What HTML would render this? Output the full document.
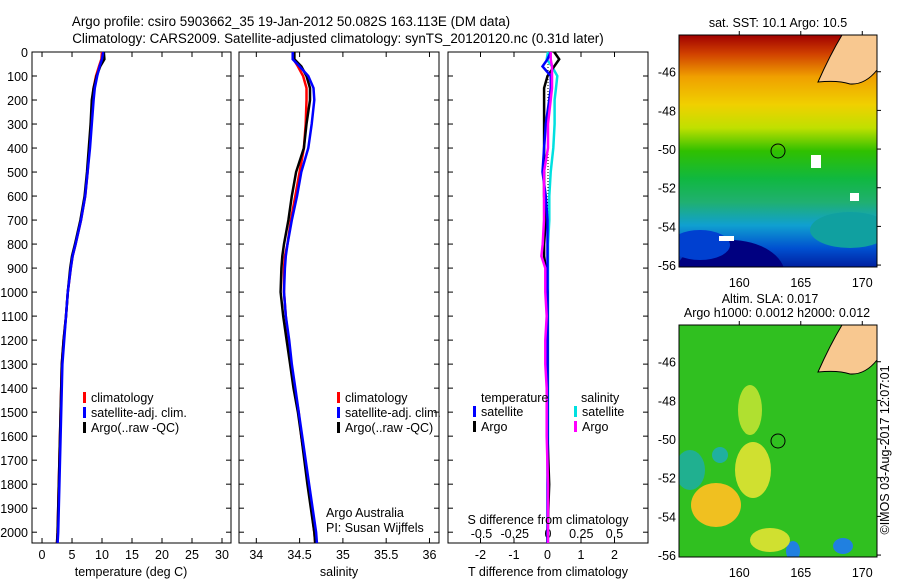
<!DOCTYPE html>
<html><head><meta charset="utf-8">
<style>
html,body{margin:0;padding:0;background:#fff;}
svg{display:block;font-family:"Liberation Sans",sans-serif;}
text{font-size:12.5px;fill:#000;}
</style></head>
<body>
<svg id="chart" width="900" height="580" viewBox="0 0 900 580">
<text x="291" y="26" text-anchor="middle" style="font-size:13.4px">Argo profile: csiro 5903662_35 19-Jan-2012 50.082S 163.113E (DM data)</text>
<text x="338" y="43" text-anchor="middle" style="font-size:13.4px">Climatology: CARS2009. Satellite-adjusted climatology: synTS_20120120.nc (0.31d later)</text>
<g id="plots"></g>
<defs>
<linearGradient id="sstg" x1="0" y1="0" x2="0" y2="1">
<stop offset="0" stop-color="#a00000"/><stop offset="0.08" stop-color="#d04000"/><stop offset="0.18" stop-color="#f0a000"/>
<stop offset="0.3" stop-color="#f0d000"/><stop offset="0.4" stop-color="#c0e000"/><stop offset="0.5" stop-color="#30c000"/>
<stop offset="0.62" stop-color="#10b840"/><stop offset="0.72" stop-color="#20b070"/><stop offset="0.82" stop-color="#10a0d0"/>
<stop offset="0.92" stop-color="#0050d0"/><stop offset="1" stop-color="#0020a0"/></linearGradient>
<clipPath id="c1"><rect x="679" y="35" width="198" height="232"/></clipPath>
<clipPath id="c2"><rect x="679" y="325" width="198" height="232"/></clipPath>
</defs>
<g>
<text x="778" y="27" text-anchor="middle">sat. SST: 10.1 Argo: 10.5</text>
<g clip-path="url(#c1)">
<rect x="679" y="35" width="198" height="232" fill="url(#sstg)"/>
<ellipse cx="730" cy="275" rx="55" ry="35" fill="#000080"/>
<ellipse cx="700" cy="245" rx="30" ry="15" fill="#0040d0"/>
<ellipse cx="850" cy="230" rx="40" ry="18" fill="#10a0a0"/>
<path d="M842 35 L877 35 L877 70 Q865 85 850 84 Q838 80 818 82 Q830 55 842 35Z" fill="#f8c890" stroke="#000" stroke-width="1"/>
<rect x="811" y="155" width="10" height="13" fill="#fff"/>
<rect x="850" y="193" width="9" height="8" fill="#fff"/>
<rect x="719" y="236" width="15" height="5" fill="#fff"/>
</g>
<circle cx="778" cy="151" r="7" fill="none" stroke="#000"/>
<rect x="679" y="35" width="198" height="232" fill="none" stroke="#000"/>
</g>
<g>
<text x="770" y="303" text-anchor="middle">Altim. SLA: 0.017</text>
<text x="777" y="317" text-anchor="middle">Argo h1000: 0.0012 h2000: 0.012</text>
<g clip-path="url(#c2)">
<rect x="679" y="325" width="198" height="232" fill="#30c020"/>
<ellipse cx="753" cy="470" rx="18" ry="28" fill="#d0e030"/>
<ellipse cx="716" cy="505" rx="25" ry="22" fill="#f0c020"/>
<ellipse cx="750" cy="410" rx="12" ry="25" fill="#b0e030"/>
<ellipse cx="690" cy="470" rx="15" ry="20" fill="#20b090"/>
<ellipse cx="720" cy="455" rx="8" ry="8" fill="#20b0a0"/>
<ellipse cx="793" cy="551" rx="7" ry="10" fill="#2080e0"/>
<ellipse cx="843" cy="546" rx="10" ry="8" fill="#2080e0"/>
<ellipse cx="770" cy="540" rx="20" ry="12" fill="#d0e030"/>
<path d="M842 325 L877 325 L877 360 Q865 375 850 374 Q838 370 818 372 Q830 345 842 325Z" fill="#f8c890" stroke="#000" stroke-width="1"/>
</g>
<circle cx="778" cy="441" r="7" fill="none" stroke="#000"/>
<rect x="679" y="325" width="198" height="232" fill="none" stroke="#000"/>
</g>
<text transform="translate(889,450) rotate(-90)" text-anchor="middle">©IMOS 03-Aug-2017 12:07:01</text>
</svg>
<script>
const depths=[0,30,60,100,150,200,300,400,500,600,700,800,850,900,1000,1100,1200,1300,1400,1500,1600,1800,2000,2045];
const tClim=[10.0,9.9,9.5,9.0,8.6,8.4,8.2,7.9,7.6,7.2,6.5,5.6,5.1,4.8,4.3,4.0,3.6,3.3,3.2,3.1,3.0,2.8,2.6,2.5];
const tSat=[10.2,10.0,9.6,9.2,8.8,8.6,8.3,8.0,7.6,7.2,6.5,5.6,5.1,4.8,4.3,4.0,3.7,3.4,3.3,3.2,3.1,2.9,2.7,2.6];
const tArgo=[10.3,10.4,9.7,9.1,8.6,8.3,8.1,7.8,7.5,7.1,6.4,5.5,5.0,4.7,4.3,4.0,3.6,3.3,3.2,3.1,3.0,2.8,2.6,2.5];
const sClim=[34.42,34.43,34.48,34.54,34.58,34.58,34.57,34.55,34.50,34.45,34.40,34.36,34.33,34.32,34.32,34.34,34.37,34.40,34.44,34.49,34.52,34.60,34.67,34.68];
const sSat=[34.42,34.42,34.50,34.60,34.66,34.67,34.64,34.60,34.52,34.47,34.41,34.36,34.34,34.33,34.32,34.34,34.38,34.41,34.45,34.49,34.53,34.61,34.69,34.70];
const sArgo=[34.44,34.44,34.52,34.58,34.62,34.62,34.58,34.55,34.46,34.41,34.37,34.32,34.30,34.29,34.28,34.31,34.35,34.39,34.43,34.48,34.52,34.59,34.67,34.68];
const dTSat=[0.1,0.0,-0.15,0.1,0.1,0.05,-0.05,-0.1,-0.15,-0.05,0.0,0.0,0.0,0.0,0.0,0.0,0.0,0.0,0.0,0.0,0.0,0.0,0.0,0.0];
const dTArgo=[0.2,0.35,0.2,0.0,-0.1,-0.1,-0.1,-0.1,-0.1,-0.1,-0.05,-0.1,-0.1,-0.05,0.0,0.0,0.0,0.0,0.0,0.0,0.0,0.05,0.0,0.0];
const dSSat=[0.0,-0.01,0.03,0.07,0.06,0.05,0.05,0.04,0.02,0.01,0.01,0.0,0.0,0.0,0.0,0.0,0.0,0.0,0.0,0.0,0.0,0.0,0.0,0.0];
const dSArgo=[0.02,0.02,0.03,0.03,0.03,0.02,0.0,0.0,-0.03,-0.03,-0.03,-0.04,-0.05,-0.02,-0.02,-0.01,-0.02,-0.02,-0.01,-0.01,-0.01,0.0,0.0,0.0];
const depthTicks=[0,100,200,300,400,500,600,700,800,900,1000,1100,1200,1300,1400,1500,1600,1700,1800,1900,2000];
const tempTicks=[0,5,10,15,20,25,30];
const salTicks=[34,34.5,35,35.5,36];
const tdTicks=[-2,-1,0,1,2];
const sdTicks=[-0.5,-0.25,0,0.25,0.5];
const sdLabels=["-0.5","-0.25","0","0.25","0.5"];

const NS='http://www.w3.org/2000/svg';
const root=document.getElementById('plots');
function el(tag,attrs,parent){const e=document.createElementNS(NS,tag);for(const k in attrs)e.setAttribute(k,attrs[k]);(parent||root).appendChild(e);return e;}
const top0=52,bot0=543,dMax=2045;
function yD(d){return top0+(bot0-top0)*d/dMax;}
function panel(name,x0,x1,lo,hi){
  const g=el('g',{});
  
  
  el('rect',{x:x0,y:top0,width:x1-x0,height:bot0-top0,fill:'none',stroke:'#000'},g);
  depthTicks.forEach(d=>{const y=yD(d);
    const t1=el('line',{x1:x0,y1:y,x2:x0+5,y2:y,stroke:'#000'},g);
    
    
    el('line',{x1:x1-5,y1:y,x2:x1,y2:y,stroke:'#000'},g);});
  return {g,x:v=>x0+(x1-x0)*(v-lo)/(hi-lo)};
}
function xTicks(p,ticks,labels,y,name){
  ticks.forEach((v,i)=>{const x=p.x(v);
    el('line',{x1:x,y1:bot0-5,x2:x,y2:bot0,stroke:'#000'},p.g);
    el('line',{x1:x,y1:top0,x2:x,y2:top0+5,stroke:'#000'},p.g);
    const t=el('text',{x:x,y:y,'text-anchor':'middle'},p.g);t.textContent=labels?labels[i]:String(v);
    
    });
}
function line(p,vals,color,name,w){
  const pts=vals.map((v,i)=>p.x(v).toFixed(1)+','+yD(depths[i]).toFixed(1)).join(' ');
  const l=el('polyline',{points:pts,fill:'none',stroke:color,'stroke-width':w||2.5},p.g);
  
  
}
function legend(g,x,y,items){
  items.forEach((it,i)=>{const yy=y+i*15;
    el('rect',{x:x,y:yy-10,width:3,height:11,fill:it[1]},g);
    const t=el('text',{x:x+8,y:yy},g);t.textContent=it[0];
    
    });
}
depthTicks.forEach(d=>{const t=el('text',{x:28,y:yD(d)+5,'text-anchor':'end'});t.textContent=d;
  
  });
const p1=panel('temperature-panel',32,231,-1.67,31.5);
xTicks(p1,tempTicks,null,559,'temp-tick-label');
line(p1,tClim,'#f00','temp-climatology-line');
line(p1,tArgo,'#000','temp-argo-line');
line(p1,tSat,'#00f','temp-satellite-line');
el('text',{x:131,y:576,'text-anchor':'middle'},p1.g).textContent='temperature (deg C)';
legend(p1.g,83,402,[['climatology','#f00'],['satellite-adj. clim.','#00f'],['Argo(..raw -QC)','#000']]);
const p2=panel('salinity-panel',239,439,33.8,36.11);
xTicks(p2,salTicks,null,559,'sal-tick-label');
line(p2,sClim,'#f00','sal-climatology-line');
line(p2,sArgo,'#000','sal-argo-line');
line(p2,sSat,'#00f','sal-satellite-line');
el('text',{x:339,y:576,'text-anchor':'middle'},p2.g).textContent='salinity';
legend(p2.g,337,402,[['climatology','#f00'],['satellite-adj. clim.','#00f'],['Argo(..raw -QC)','#000']]);
el('text',{x:326,y:517},p2.g).textContent='Argo Australia';
el('text',{x:326,y:532},p2.g).textContent='PI: Susan Wijffels';
const p3=panel('difference-panel',448,648,-2.97,3.0);
const p3s={g:p3.g,x:v=>548+133*v};
xTicks(p3,tdTicks,null,559,'tdiff-tick-label');
sdTicks.forEach((v,i)=>{const t=el('text',{x:p3s.x(v),y:538,'text-anchor':'middle'},p3.g);t.textContent=sdLabels[i];
  
  });
el('line',{x1:548,y1:top0,x2:548,y2:bot0,stroke:'#000','stroke-dasharray':'1,2'},p3.g);
line(p3s,dSSat,'#00e0e0','sdiff-satellite-line');
line(p3,dTArgo,'#000','tdiff-argo-line');
line(p3,dTSat,'#00f','tdiff-satellite-line');
line(p3s,dSArgo,'#f0f','sdiff-argo-line');
el('text',{x:548,y:576,'text-anchor':'middle'},p3.g).textContent='T difference from climatology';
el('text',{x:548,y:524,'text-anchor':'middle'},p3.g).textContent='S difference from climatology';
el('text',{x:481,y:402},p3.g).textContent='temperature';
el('text',{x:581,y:402},p3.g).textContent='salinity';
legend(p3.g,473,416,[['satellite','#00f'],['Argo','#000']]);
legend(p3.g,574,416,[['satellite','#00e0e0'],['Argo','#f0f']]);
function mapAxes(y0,y1,name){
  [-46,-48,-50,-52,-54,-56].forEach(l=>{const y=y0+(y1-y0)*(-44.1-l)/12;
    const t=el('text',{x:676,y:y+5,'text-anchor':'end'});t.textContent=l;
    
    
    el('line',{x1:877,y1:y,x2:881,y2:y,stroke:'#000'});});
  [160,165,170].forEach(l=>{const x=679+(l-155.1)*12.3;
    const t=el('text',{x:x,y:y1+20,'text-anchor':'middle'});t.textContent=l;
    
    
    el('line',{x1:x,y1:y0-4,x2:x,y2:y0,stroke:'#000'});});
}
mapAxes(35,267,'sst-map');
mapAxes(325,557,'sla-map');
</script>
</body></html>
